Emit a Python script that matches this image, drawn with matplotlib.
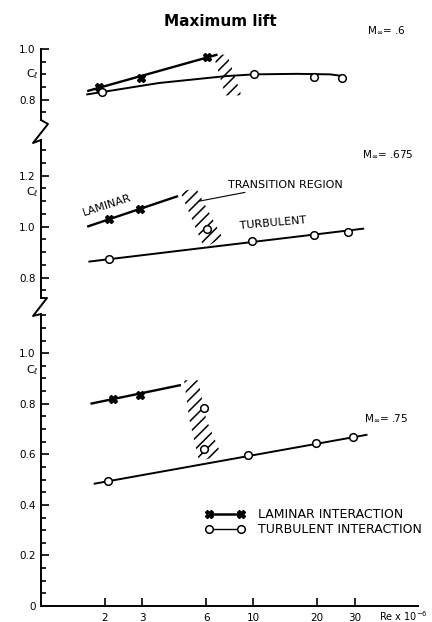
import matplotlib.pyplot as plt
from matplotlib.lines import Line2D
from matplotlib.ticker import MultipleLocator, NullLocator
from matplotlib import transforms

plt.rcParams['font.family'] = ['DejaVu Sans']
plt.rcParams['hatch.linewidth'] = 1.1
plt.rcParams['hatch.color'] = 'black'

# values: Re x 10^-6 against c_l
# M = .6
lam_re_06 = [1.87, 2.95, 6.08]
lam_cl_06 = [0.851, 0.886, 0.969]
lam_fit_re_06 = [1.65, 6.78]
lam_fit_cl_06 = [0.834, 0.978]
turb_re_06 = [1.93, 10.1, 19.4, 26.1]
turb_cl_06 = [0.830, 0.900, 0.889, 0.885]
turb_fit_re_06 = [1.65, 2.0, 3.6, 7.4, 10.1, 16.0, 23.0, 25.5, 27.0]
turb_fit_cl_06 = [0.821, 0.832, 0.866, 0.893, 0.900, 0.902, 0.900, 0.895, 0.887]
trans_re_06 = [6.48, 7.54, 8.78, 7.38]
trans_cl_06 = [0.978, 0.978, 0.817, 0.817]

# M = .675
lam_re_0675 = [2.10, 2.92]
lam_cl_0675 = [1.029, 1.068]
lam_fit_re_0675 = [1.65, 4.42]
lam_fit_cl_0675 = [1.000, 1.120]
turb_re_0675 = [2.09, 6.08, 9.82, 19.2, 27.9]
turb_cl_0675 = [0.874, 0.992, 0.944, 0.967, 0.979]
turb_fit_re_0675 = [1.69, 32.9]
turb_fit_cl_0675 = [0.863, 0.992]
trans_re_0675 = [4.52, 5.38, 7.14, 5.87]
trans_cl_0675 = [1.138, 1.150, 0.958, 0.915]

# M = .75
lam_re_075 = [2.19, 2.92]
lam_cl_075 = [0.817, 0.835]
lam_fit_re_075 = [1.71, 4.56]
lam_fit_cl_075 = [0.800, 0.874]
turb_re_075 = [2.07, 5.85, 5.85, 9.4, 19.8, 29.5]
turb_cl_075 = [0.493, 0.782, 0.622, 0.596, 0.646, 0.669]
turb_fit_re_075 = [1.79, 34.1]
turb_fit_cl_075 = [0.484, 0.677]
trans_re_075 = [4.72, 5.50, 6.00, 7.06, 5.56, 4.99]
trans_cl_075 = [0.893, 0.893, 0.738, 0.599, 0.571, 0.738]

re_ticks = [2, 3, 6, 10, 20, 30]

W, H = 432, 622
fig = plt.figure(figsize=(W / 100, H / 100), dpi=100)


def fx(px):
    return px / W


def fy(py):
    return 1 - py / H


def make_panel(top, bottom, ylim, major, labels):
    ax = fig.add_axes([fx(41), fy(bottom), 377 / W, (bottom - top) / H])
    ax.set_xscale('log')
    ax.set_xlim(1, 59.6)
    ax.set_ylim(*ylim)
    ax.patch.set_visible(False)
    for s in ['top', 'right']:
        ax.spines[s].set_visible(False)
    ax.spines['left'].set_linewidth(1.4)
    ax.spines['bottom'].set_linewidth(1.4)
    ax.set_yticks(major)
    ax.set_yticklabels(labels)
    ax.yaxis.set_minor_locator(MultipleLocator(0.05))
    ax.xaxis.set_minor_locator(NullLocator())
    ax.tick_params(axis='y', which='major', direction='in', length=6, width=1.2,
                   labelsize=7.5, pad=4)
    ax.tick_params(axis='y', which='minor', direction='in', length=3.5, width=1.2)
    return ax


def draw(ax, lre, lcl, lfre, lfcl, tre, tcl, tfre, tfcl, hre, hcl):
    ax.plot(lfre, lfcl, color='k', lw=1.7, solid_capstyle='butt')
    ax.plot(lre, lcl, ls='none', marker='X', ms=5.5, color='k', zorder=4)
    ax.plot(tfre, tfcl, color='k', lw=1.4)
    ax.plot(tre, tcl, ls='none', marker='o', ms=5.5, mfc='white', mec='k',
            mew=1.1, zorder=5)
    ax.fill(hre, hcl, facecolor='none', edgecolor='k', hatch='///', lw=0)


ax_top = make_panel(49, 120, (0.72, 1.0), [0.8, 1.0], ['0.8', '1.0'])
ax_mid = make_panel(140, 298, (0.72, 1.34), [0.8, 1.0, 1.2], ['0.8', '1.0', '1.2'])
ax_bot = make_panel(314, 606, (0, 1.155), [0, 0.2, 0.4, 0.6, 0.8, 1.0],
                    ['0', '0.2', '0.4', '0.6', '0.8', '1.0'])

for ax in [ax_top, ax_mid]:
    ax.spines['bottom'].set_visible(False)
    ax.set_xticks([])

ax_bot.set_xticks(re_ticks)
ax_bot.set_xticklabels([str(v) for v in re_ticks])
ax_bot.tick_params(axis='x', which='major', direction='in', length=6, width=1.2,
                   labelsize=7.5, pad=5)

draw(ax_top, lam_re_06, lam_cl_06, lam_fit_re_06, lam_fit_cl_06,
     turb_re_06, turb_cl_06, turb_fit_re_06, turb_fit_cl_06, trans_re_06, trans_cl_06)
draw(ax_mid, lam_re_0675, lam_cl_0675, lam_fit_re_0675, lam_fit_cl_0675,
     turb_re_0675, turb_cl_0675, turb_fit_re_0675, turb_fit_cl_0675,
     trans_re_0675, trans_cl_0675)
draw(ax_bot, lam_re_075, lam_cl_075, lam_fit_re_075, lam_fit_cl_075,
     turb_re_075, turb_cl_075, turb_fit_re_075, turb_fit_cl_075,
     trans_re_075, trans_cl_075)

# axis breaks
fig.add_artist(Line2D([fx(41), fx(48), fx(33), fx(41)],
                      [fy(120), fy(124), fy(143), fy(140)], color='k', lw=1.4))
fig.add_artist(Line2D([fx(41), fx(47), fx(33), fx(41)],
                      [fy(298), fy(298), fy(316), fy(314)], color='k', lw=1.4))

# c_l labels
for ax, yv in [(ax_top, 0.9), (ax_mid, 1.135), (ax_bot, 0.933)]:
    tr = transforms.blended_transform_factory(ax.transAxes, ax.transData)
    ax.text(-0.024, yv, r'C$_\ell$', transform=tr, ha='center', va='center',
            fontsize=8)

# Mach labels
ax_top.text(34.2, 1.076, r'M$_\infty$= .6', fontsize=7.5, va='center', clip_on=False)
ax_mid.text(32.4, 1.284, r'M$_\infty$= .675', fontsize=7.5, va='center')
ax_bot.text(33.1, 0.744, r'M$_\infty$= .75', fontsize=7.5, va='center')

# labels of the middle panel
ax_mid.text(2.04, 1.084, 'LAMINAR', rotation=18, fontsize=8, ha='center',
            va='center', rotation_mode='anchor')
ax_mid.text(12.4, 1.013, 'TURBULENT', rotation=5, fontsize=8, ha='center',
            va='center', rotation_mode='anchor')
ax_mid.annotate('TRANSITION REGION', xy=(5.56, 1.100), xytext=(7.6, 1.165),
                fontsize=8, ha='left', va='center',
                arrowprops=dict(arrowstyle='-', lw=0.8, color='k',
                                shrinkA=0, shrinkB=0))

# legend
handles = [
    Line2D([], [], color='k', lw=1.8, marker='X', ms=5.5),
    Line2D([], [], color='k', lw=1.0, marker='o', ms=5.5, mfc='white', mew=1.1),
]
ax_bot.legend(handles, ['LAMINAR INTERACTION', 'TURBULENT INTERACTION'],
              loc='upper left', bbox_to_anchor=(fx(205), fy(508)),
              bbox_transform=fig.transFigure, frameon=False, fontsize=9,
              handlelength=3.2, handletextpad=1.0, labelspacing=0.15,
              borderpad=0, borderaxespad=0, numpoints=2)

fig.text(fx(428), fy(616), r'Re x 10$^{-6}$', fontsize=7, ha='right', va='center')
fig.text(fx(220), fy(21), 'Maximum lift', fontsize=11, fontweight='bold',
         ha='center', va='center')

fig.savefig('out.png', dpi=100)
